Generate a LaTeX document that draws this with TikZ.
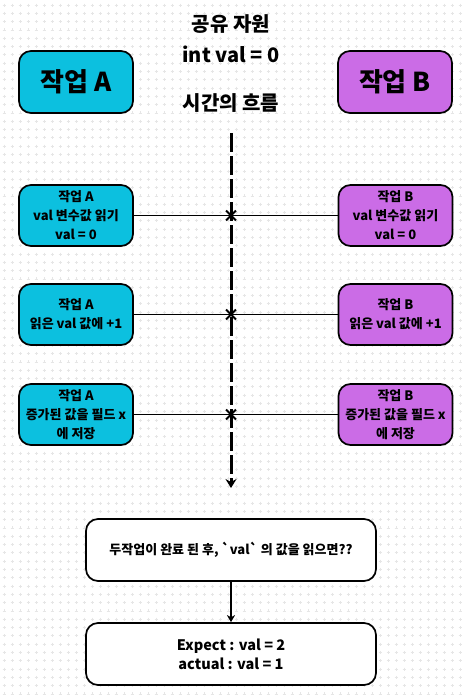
\documentclass[tikz,border=0pt]{standalone}
\usepackage{fontspec}
\setmainfont{Noto Sans CJK KR}[BoldFont={Noto Sans CJK KR Black}]
\newfontfamily\plainkr{Noto Sans CJK KR}[BoldFont={Noto Sans CJK KR Black}]
\usetikzlibrary{arrows.meta,shapes.misc}
\definecolor{cyanA}{HTML}{0CC0DF}
\definecolor{purpB}{HTML}{CB6CE6}
\definecolor{gridc}{HTML}{E6E6E6}
\tikzset{
  box/.style={draw=black, line width=1.7pt, rounded corners=12pt, align=center, font=\bfseries\fontsize{13}{19}\selectfont, inner sep=0pt},
  head/.style={box, minimum width=114pt, minimum height=62pt, font=\bfseries\fontsize{26}{30}\selectfont},
  stepbox/.style={box, minimum width=114pt, minimum height=61pt},
  wide/.style={box, fill=white, minimum width=290pt, minimum height=62pt},
  xmark/.style={cross out, draw=black, line width=1.8pt, minimum size=8pt, inner sep=0pt},
  conn/.style={line width=1.4pt},
  timeline/.style={line width=3pt, dash pattern=on 19pt off 4pt, -{Stealth[length=9pt,width=11pt,inset=3pt]}},
  title/.style={font=\bfseries\fontsize{20}{24}\selectfont, inner sep=0pt}
}
\begin{document}
\begin{tikzpicture}[x=1pt,y=-1pt]
\useasboundingbox (0,0) rectangle (462,699);
\fill[white] (0,0) rectangle (462,699);
\draw[gridc, line width=0.8pt] \foreach \i in {0,...,57} { \foreach \j in {0,...,83} { ({4+8*\i-1.5},{5+8.3*\j}) -- ({4+8*\i+1.5},{5+8.3*\j}) ({4+8*\i},{5+8.3*\j-1.5}) -- ({4+8*\i},{5+8.3*\j+1.5}) } };

\node[title] (t1) at (231,24) {공유 자원};
\node[title] (t2) at (231,54) {int val = 0};
\node[title] (t3) at (231,103) {시간의 흐름};

\node[head, fill=cyanA] (ha) at (76,82) {작업 A};
\node[head, fill=purpB] (hb) at (395,82) {작업 B};

\coordinate (top) at (231,133);
\coordinate (bot) at (231,488);
\draw[timeline] (top) -- (bot);

\node[stepbox, fill=cyanA] (a1) at (76,215.5) {작업 A\\val 변수값 읽기\\val = 0};
\node[stepbox, fill=purpB] (b1) at (395.5,215.5) {작업 B\\val 변수값 읽기\\val = 0};
\node[stepbox, fill=cyanA] (a2) at (76,314.5) {작업 A\\읽은 val 값에 +1};
\node[stepbox, fill=purpB] (b2) at (395.5,314.5) {작업 B\\읽은 val 값에 +1};
\node[stepbox, fill=cyanA] (a3) at (76,414.5) {작업 A\\증가된 값을 필드 x\\에 저장};
\node[stepbox, fill=purpB] (b3) at (395.5,414.5) {작업 B\\증가된 값을 필드 x\\에 저장};

\node[xmark] (x1) at (231,215.5) {};
\node[xmark] (x2) at (231,314.5) {};
\node[xmark] (x3) at (231,414.5) {};
\draw[conn] (a1.east) -- (x1.center);
\draw[conn] (b1.west) -- (x1.center);
\draw[conn] (a2.east) -- (x2.center);
\draw[conn] (b2.west) -- (x2.center);
\draw[conn] (a3.east) -- (x3.center);
\draw[conn] (b3.west) -- (x3.center);

\node[wide] (q) at (231,550) {\plainkr\bfseries 두작업이 완료 된 후, `val` 의 값을 읽으면??};
\node[wide, font=\bfseries\fontsize{14.5}{19}\selectfont] (r) at (231,654) {Expect : val = 2\\actual : val = 1};
\draw[line width=1.4pt, -{Stealth[length=7pt,width=8pt,inset=2pt]}] (q.south) -- (r.north);
\end{tikzpicture}
\end{document}
